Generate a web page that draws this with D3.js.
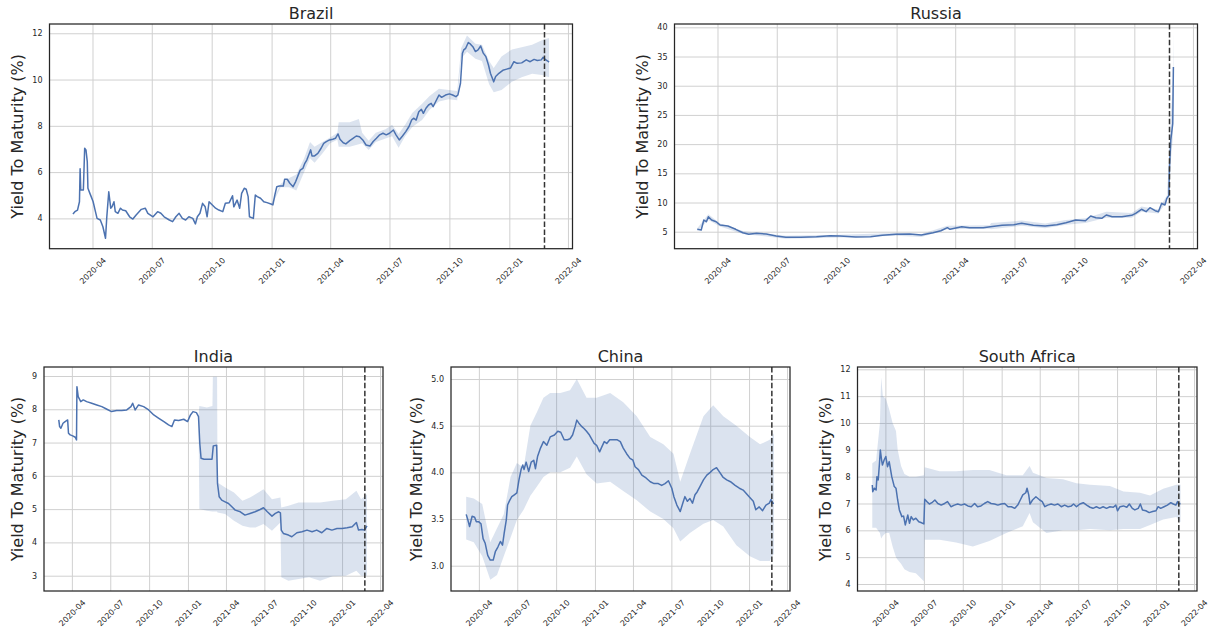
<!DOCTYPE html>
<html lang="en">
<head>
  <meta charset="UTF-8" />
  <title>Yield To Maturity – Brazil, Russia, India, China, South Africa</title>
  <script src="https://d3js.org/d3.v7.min.js"></script>
  <style>
    body { margin: 0; background: #fff; }
    svg { display: block; font-family: "DejaVu Sans", sans-serif; }
    .title, .ylabel { font-size: 16px; fill: #262626; }
  </style>
</head>
<body>
<svg id="chart" width="1215" height="636"></svg>
<script>
// ---------- shared axis data ----------
const xRange = ["2020-01-26", "2022-04-08"];
const quarterTicks = ["2020-04", "2020-07", "2020-10", "2021-01", "2021-04",
                      "2021-07", "2021-10", "2022-01", "2022-04"];
const invasionDate = "2022-02-24";

// ---------- Brazil ----------
const brazilTicks = [4, 6, 8, 10, 12];
const brazilDates = ["2020-03-02","2020-03-05","2020-03-09","2020-03-12","2020-03-13","2020-03-14","2020-03-18","2020-03-20","2020-03-22","2020-03-24","2020-03-25","2020-03-28","2020-03-30","2020-04-02","2020-04-05","2020-04-08","2020-04-13","2020-04-17","2020-04-21","2020-04-23","2020-04-26","2020-04-29","2020-05-01","2020-05-04","2020-05-06","2020-05-10","2020-05-14","2020-05-17","2020-05-22","2020-05-28","2020-06-02","2020-06-07","2020-06-15","2020-06-21","2020-06-25","2020-07-03","2020-07-10","2020-07-15","2020-07-20","2020-07-28","2020-08-02","2020-08-07","2020-08-12","2020-08-17","2020-08-22","2020-08-27","2020-09-02","2020-09-06","2020-09-09","2020-09-13","2020-09-17","2020-09-21","2020-09-24","2020-09-27","2020-10-02","2020-10-07","2020-10-12","2020-10-18","2020-10-22","2020-10-28","2020-11-02","2020-11-04","2020-11-09","2020-11-13","2020-11-16","2020-11-20","2020-11-23","2020-11-26","2020-11-28","2020-12-04","2020-12-07","2020-12-10","2020-12-15","2020-12-20","2020-12-25","2021-01-01","2021-01-03","2021-01-06","2021-01-09","2021-01-13","2021-01-19","2021-01-21","2021-01-25","2021-01-29","2021-02-03","2021-02-07","2021-02-11","2021-02-14","2021-02-18","2021-02-21","2021-02-24","2021-02-27","2021-03-02","2021-03-04","2021-03-08","2021-03-13","2021-03-18","2021-03-22","2021-03-26","2021-03-31","2021-04-05","2021-04-09","2021-04-13","2021-04-16","2021-04-21","2021-04-25","2021-05-01","2021-05-06","2021-05-11","2021-05-16","2021-05-21","2021-05-26","2021-06-01","2021-06-06","2021-06-11","2021-06-16","2021-06-21","2021-06-26","2021-07-01","2021-07-07","2021-07-11","2021-07-16","2021-07-21","2021-07-26","2021-07-31","2021-08-04","2021-08-07","2021-08-11","2021-08-15","2021-08-19","2021-08-22","2021-08-26","2021-08-30","2021-09-03","2021-09-06","2021-09-10","2021-09-15","2021-09-19","2021-09-25","2021-10-01","2021-10-06","2021-10-11","2021-10-14","2021-10-18","2021-10-21","2021-10-23","2021-10-26","2021-10-30","2021-11-02","2021-11-06","2021-11-10","2021-11-14","2021-11-18","2021-11-22","2021-11-26","2021-11-30","2021-12-03","2021-12-08","2021-12-11","2021-12-16","2021-12-22","2021-12-28","2022-01-03","2022-01-08","2022-01-13","2022-01-20","2022-01-27","2022-02-02","2022-02-08","2022-02-13","2022-02-19","2022-02-22","2022-02-25","2022-03-01","2022-03-03"];
const brazilYield = [4.19,4.29,4.36,4.72,6.14,5.23,5.23,7.03,6.96,6.45,5.30,5.08,4.94,4.72,4.36,4.00,3.93,3.64,3.14,4.07,5.15,4.44,4.50,4.72,4.29,4.22,4.44,4.36,4.33,4.07,3.97,4.15,4.39,4.44,4.22,4.07,4.29,4.22,4.07,3.93,3.86,4.07,4.22,4.00,3.93,4.07,4.00,3.76,4.07,4.22,4.65,4.50,4.07,4.72,4.58,4.44,4.36,4.29,4.65,4.68,4.98,4.50,4.79,4.44,5.08,5.30,5.26,4.94,4.07,4.00,5.01,4.94,4.87,4.72,4.68,4.61,4.58,5.01,5.37,5.40,5.40,5.69,5.69,5.52,5.37,5.59,5.88,6.09,6.16,6.38,6.52,6.74,6.96,6.70,6.70,6.81,7.03,7.24,7.32,7.39,7.42,7.46,7.65,7.42,7.27,7.22,7.36,7.46,7.56,7.53,7.39,7.17,7.13,7.32,7.46,7.61,7.68,7.61,7.68,7.82,7.61,7.39,7.56,7.75,7.97,8.25,8.33,8.25,8.61,8.71,8.54,8.76,8.90,8.97,8.83,9.05,9.33,9.23,9.33,9.38,9.33,9.26,9.33,9.84,11.14,11.28,11.35,11.60,11.54,11.42,11.21,11.28,11.45,11.14,10.99,10.63,10.27,9.90,10.13,10.27,10.40,10.45,10.50,10.77,10.70,10.72,10.85,10.77,10.87,10.82,10.85,10.96,10.87,10.80,10.75];
const brazilBandDates = ["2021-01-01","2021-01-15","2021-01-28","2021-02-08","2021-02-20","2021-03-01","2021-03-08","2021-03-20","2021-04-01","2021-04-12","2021-04-14","2021-05-01","2021-05-15","2021-05-20","2021-05-30","2021-06-10","2021-06-25","2021-07-05","2021-07-15","2021-07-25","2021-08-05","2021-08-20","2021-09-01","2021-09-15","2021-09-30","2021-10-13","2021-10-19","2021-10-28","2021-11-10","2021-11-20","2021-12-01","2021-12-08","2021-12-20","2022-01-05","2022-01-20","2022-02-05","2022-02-20","2022-03-03"];
const brazilBandLow  = [4.55,5.35,5.35,5.20,6.00,6.60,6.40,6.80,7.25,7.40,7.10,7.10,7.20,7.25,6.95,7.30,7.45,7.55,7.05,7.55,7.95,8.25,8.70,9.05,9.15,9.10,10.90,11.20,10.90,10.80,9.80,9.45,9.55,9.90,10.10,10.25,10.20,10.10];
const brazilBandHigh = [4.67,5.50,5.75,5.90,6.60,7.30,7.10,7.30,7.50,7.70,8.15,8.15,8.30,7.70,7.35,7.70,7.85,8.05,7.65,8.05,8.55,8.95,9.30,9.60,9.55,9.50,11.35,11.90,11.55,11.50,10.80,10.50,11.00,11.30,11.40,11.50,11.70,11.80];

// ---------- Russia ----------
const russiaTicks = [5, 10, 15, 20, 25, 30, 35, 40];
const russiaDates = ["2020-03-01","2020-03-07","2020-03-11","2020-03-15","2020-03-18","2020-03-23","2020-03-30","2020-04-05","2020-04-17","2020-04-29","2020-05-10","2020-05-19","2020-05-31","2020-06-15","2020-06-30","2020-07-15","2020-08-07","2020-08-31","2020-09-21","2020-10-06","2020-10-30","2020-11-22","2020-12-10","2020-12-31","2021-01-21","2021-02-08","2021-02-26","2021-03-10","2021-03-20","2021-03-24","2021-04-02","2021-04-11","2021-04-23","2021-05-14","2021-05-25","2021-06-12","2021-06-30","2021-07-12","2021-07-30","2021-08-17","2021-09-04","2021-09-18","2021-10-03","2021-10-18","2021-10-26","2021-11-03","2021-11-12","2021-11-19","2021-11-28","2021-12-13","2021-12-28","2022-01-03","2022-01-12","2022-01-19","2022-01-25","2022-02-02","2022-02-07","2022-02-12","2022-02-17","2022-02-20","2022-02-23","2022-02-24","2022-02-26","2022-03-01","2022-03-02"];
const russiaYield = [5.41,5.29,7.00,6.71,7.57,7.00,6.71,6.15,5.98,5.41,4.83,4.55,4.73,4.61,4.26,4.04,4.04,4.14,4.32,4.26,4.09,4.14,4.38,4.55,4.61,4.43,4.83,5.17,5.69,5.41,5.63,5.86,5.69,5.69,5.86,6.09,6.20,6.44,6.09,5.98,6.20,6.54,7.00,6.88,7.69,7.40,7.29,7.86,7.57,7.57,7.81,8.15,8.84,8.43,9.11,8.60,8.43,9.86,9.57,10.72,11.20,16.10,20.70,23.50,33.20];
const russiaBandDates = ["2020-03-01","2020-03-18","2020-04-05","2020-05-10","2020-07-15","2020-10-06","2020-12-31","2021-02-08","2021-03-20","2021-05-24","2021-05-26","2021-07-12","2021-08-17","2021-09-18","2021-10-18","2021-11-19","2021-12-28","2022-01-12","2022-02-07","2022-02-20","2022-02-24","2022-02-26","2022-03-01","2022-03-02"];
const russiaBandLow  = [5.1,7.0,5.9,4.6,3.8,4.0,4.3,4.1,5.4,5.5,5.4,6.0,5.6,6.2,6.5,7.4,7.4,8.4,8.1,10.2,14.0,17.0,21.0,27.0];
const russiaBandHigh = [5.6,8.0,6.4,5.1,4.3,4.5,4.8,4.6,6.0,6.1,6.5,6.9,6.4,7.0,7.3,8.4,8.2,9.3,8.8,11.2,18.5,25.0,30.0,39.0];

// ---------- India ----------
const indiaTicks = [3, 4, 5, 6, 7, 8, 9];
const indiaDates = ["2020-03-01","2020-03-03","2020-03-06","2020-03-11","2020-03-16","2020-03-22","2020-03-24","2020-03-28","2020-04-03","2020-04-09","2020-04-12","2020-04-13","2020-04-16","2020-04-22","2020-04-28","2020-05-06","2020-05-18","2020-05-30","2020-06-11","2020-06-23","2020-07-04","2020-07-16","2020-07-28","2020-08-09","2020-08-19","2020-08-23","2020-08-29","2020-09-06","2020-09-18","2020-09-30","2020-10-12","2020-10-24","2020-11-05","2020-11-16","2020-11-24","2020-11-30","2020-12-10","2020-12-22","2020-12-31","2021-01-07","2021-01-13","2021-01-21","2021-01-26","2021-01-29","2021-02-01","2021-02-08","2021-02-20","2021-02-27","2021-03-02","2021-03-10","2021-03-12","2021-03-16","2021-03-22","2021-03-30","2021-04-07","2021-04-15","2021-04-23","2021-05-05","2021-05-16","2021-05-28","2021-06-09","2021-06-21","2021-06-29","2021-07-08","2021-07-19","2021-07-27","2021-08-04","2021-08-08","2021-08-10","2021-08-15","2021-08-27","2021-09-04","2021-09-16","2021-09-28","2021-10-10","2021-10-22","2021-11-02","2021-11-14","2021-11-26","2021-12-08","2021-12-20","2022-01-01","2022-01-13","2022-01-25","2022-02-04","2022-02-09","2022-02-17","2022-02-23","2022-03-01"];
const indiaYield = [7.68,7.48,7.43,7.58,7.63,7.68,7.28,7.23,7.20,7.16,7.08,8.68,8.38,8.23,8.28,8.23,8.18,8.13,8.08,8.00,7.93,7.96,7.96,7.98,8.08,8.18,7.98,8.13,8.08,7.98,7.83,7.73,7.63,7.53,7.48,7.68,7.66,7.70,7.63,7.83,7.93,7.90,7.78,6.98,6.53,6.50,6.50,6.50,6.90,6.92,5.77,5.37,5.27,5.22,5.17,5.07,4.97,4.92,4.82,4.87,4.92,4.99,5.04,4.92,4.79,4.87,4.92,4.89,4.37,4.27,4.22,4.17,4.29,4.32,4.37,4.32,4.37,4.29,4.42,4.37,4.42,4.42,4.44,4.47,4.60,4.37,4.39,4.37,4.50];
const indiaBandDates = ["2021-01-26","2021-01-28","2021-02-15","2021-02-28","2021-03-01","2021-03-11","2021-03-12","2021-03-30","2021-04-20","2021-05-10","2021-05-28","2021-06-10","2021-06-29","2021-07-19","2021-08-08","2021-08-10","2021-08-27","2021-09-20","2021-10-15","2021-11-10","2021-12-10","2022-01-10","2022-02-04","2022-02-15","2022-03-01"];
const indiaBandLow  = [7.78,5.00,4.95,4.93,4.93,4.93,4.90,4.85,4.65,4.50,4.45,4.45,4.55,4.35,4.60,2.95,2.85,2.90,2.95,2.85,2.98,3.00,3.15,3.00,3.00];
const indiaBandHigh = [7.78,8.10,8.05,8.10,8.98,8.98,5.80,5.65,5.50,5.25,5.35,5.45,5.60,5.30,5.35,5.05,5.10,5.20,5.20,5.20,5.25,5.30,5.55,5.30,5.45];

// ---------- China ----------
const chinaTicks = [3.0, 3.5, 4.0, 4.5, 5.0];
const chinaDates = ["2020-03-02","2020-03-06","2020-03-10","2020-03-16","2020-03-22","2020-03-26","2020-04-01","2020-04-06","2020-04-11","2020-04-16","2020-04-22","2020-04-28","2020-05-05","2020-05-10","2020-05-16","2020-05-22","2020-05-27","2020-05-31","2020-06-05","2020-06-08","2020-06-13","2020-06-18","2020-06-24","2020-06-30","2020-07-05","2020-07-10","2020-07-14","2020-07-17","2020-07-22","2020-07-28","2020-08-03","2020-08-09","2020-08-13","2020-08-18","2020-08-25","2020-09-01","2020-09-09","2020-09-17","2020-09-27","2020-10-05","2020-10-12","2020-10-20","2020-10-28","2020-11-03","2020-11-09","2020-11-15","2020-11-19","2020-11-25","2020-12-01","2020-12-06","2020-12-12","2020-12-19","2020-12-24","2020-12-30","2021-01-05","2021-01-12","2021-01-17","2021-01-23","2021-01-29","2021-02-05","2021-02-14","2021-02-22","2021-03-02","2021-03-09","2021-03-17","2021-03-25","2021-04-01","2021-04-06","2021-04-14","2021-04-22","2021-05-02","2021-05-12","2021-05-21","2021-05-31","2021-06-08","2021-06-16","2021-06-24","2021-07-02","2021-07-07","2021-07-14","2021-07-22","2021-07-28","2021-08-02","2021-08-08","2021-08-14","2021-08-20","2021-08-26","2021-08-31","2021-09-07","2021-09-15","2021-09-23","2021-10-01","2021-10-08","2021-10-16","2021-10-22","2021-10-31","2021-11-09","2021-11-18","2021-11-29","2021-12-09","2021-12-18","2021-12-28","2022-01-05","2022-01-11","2022-01-17","2022-01-25","2022-02-02","2022-02-10","2022-02-18","2022-02-22","2022-02-26","2022-03-01"];
const chinaYield = [3.55,3.49,3.42,3.53,3.52,3.47,3.47,3.45,3.29,3.24,3.11,3.06,3.06,3.15,3.20,3.26,3.22,3.35,3.49,3.65,3.70,3.74,3.76,3.78,3.92,4.03,4.08,4.03,4.11,4.01,4.11,4.13,4.04,4.17,4.26,4.33,4.29,4.38,4.40,4.44,4.43,4.35,4.35,4.36,4.40,4.49,4.56,4.52,4.49,4.47,4.44,4.40,4.36,4.31,4.29,4.22,4.27,4.33,4.31,4.35,4.35,4.35,4.33,4.26,4.20,4.15,4.13,4.06,4.03,3.97,3.94,3.90,3.88,3.88,3.86,3.88,3.91,3.83,3.74,3.65,3.58,3.67,3.74,3.69,3.72,3.67,3.76,3.79,3.85,3.92,3.97,4.00,4.03,4.05,4.01,3.95,3.92,3.90,3.86,3.83,3.81,3.76,3.72,3.69,3.60,3.63,3.59,3.65,3.67,3.71,3.67,3.67];
const chinaBandDates = ["2020-03-02","2020-03-20","2020-04-09","2020-04-28","2020-05-14","2020-05-30","2020-06-15","2020-06-30","2020-07-16","2020-08-01","2020-08-17","2020-09-01","2020-09-17","2020-10-11","2020-11-03","2020-11-19","2020-12-12","2021-01-05","2021-02-06","2021-03-09","2021-04-10","2021-05-12","2021-06-12","2021-07-06","2021-07-22","2021-08-14","2021-09-15","2021-10-08","2021-11-01","2021-12-02","2022-01-03","2022-01-27","2022-02-19","2022-03-01"];
const chinaBandLow  = [3.28,3.25,3.10,2.85,2.90,3.10,3.30,3.49,3.60,3.75,3.85,3.95,4.00,4.00,4.05,4.17,3.98,3.88,3.90,3.80,3.70,3.58,3.50,3.40,3.26,3.35,3.45,3.49,3.42,3.22,3.10,3.05,3.05,3.13];
const chinaBandHigh = [3.74,3.72,3.66,3.25,3.40,3.55,3.95,4.10,4.05,4.50,4.65,4.80,4.85,4.85,4.88,5.00,4.80,4.80,4.85,4.75,4.60,4.38,4.30,4.20,3.90,4.20,4.60,4.72,4.60,4.50,4.38,4.30,4.35,4.42];

// ---------- South Africa ----------
const southAfricaTicks = [4, 5, 6, 7, 8, 9, 10, 11, 12];
const southAfricaDates = ["2020-03-01","2020-03-02","2020-03-06","2020-03-10","2020-03-12","2020-03-15","2020-03-18","2020-03-20","2020-03-23","2020-03-25","2020-03-29","2020-04-02","2020-04-06","2020-04-10","2020-04-16","2020-04-22","2020-04-26","2020-04-30","2020-05-04","2020-05-10","2020-05-14","2020-05-18","2020-05-24","2020-05-28","2020-06-01","2020-06-06","2020-06-12","2020-06-19","2020-06-24","2020-07-01","2020-07-03","2020-07-08","2020-07-14","2020-07-20","2020-07-27","2020-08-03","2020-08-11","2020-08-19","2020-08-26","2020-09-03","2020-09-11","2020-09-19","2020-09-27","2020-10-05","2020-10-13","2020-10-21","2020-10-29","2020-11-05","2020-11-13","2020-11-21","2020-11-29","2020-12-07","2020-12-15","2020-12-23","2020-12-31","2021-01-08","2021-01-16","2021-01-24","2021-02-01","2021-02-08","2021-02-14","2021-02-20","2021-02-27","2021-03-02","2021-03-06","2021-03-09","2021-03-15","2021-03-23","2021-04-01","2021-04-07","2021-04-13","2021-04-20","2021-04-28","2021-05-06","2021-05-14","2021-05-22","2021-05-30","2021-06-07","2021-06-15","2021-06-20","2021-06-27","2021-07-05","2021-07-13","2021-07-21","2021-07-29","2021-08-05","2021-08-13","2021-08-21","2021-08-29","2021-09-06","2021-09-14","2021-09-22","2021-09-28","2021-10-02","2021-10-08","2021-10-16","2021-10-24","2021-10-30","2021-11-06","2021-11-12","2021-11-20","2021-11-25","2021-11-30","2021-12-08","2021-12-16","2021-12-24","2022-01-01","2022-01-06","2022-01-12","2022-01-20","2022-01-28","2022-02-05","2022-02-11","2022-02-17","2022-02-21","2022-02-24","2022-02-28"];
const southAfricaYield = [7.69,7.44,7.57,7.50,8.00,7.88,8.50,8.99,8.62,8.43,8.62,8.75,8.37,8.56,8.00,7.63,7.57,7.13,6.76,6.51,6.53,6.20,6.57,6.26,6.51,6.39,6.45,6.32,6.29,6.24,7.16,7.07,6.98,7.03,7.13,7.00,6.94,7.00,7.07,6.88,6.94,6.98,6.94,6.98,6.91,6.88,7.00,6.88,6.91,7.00,7.07,7.00,6.98,6.94,6.98,7.00,6.88,6.88,6.82,6.94,7.13,7.32,7.40,7.57,7.32,6.98,7.13,7.25,7.13,7.07,6.88,6.94,6.98,6.94,6.98,6.88,6.94,6.88,6.91,6.98,6.88,6.98,7.03,6.94,6.86,6.82,6.88,6.82,6.88,6.82,6.88,6.86,6.94,6.73,6.88,6.91,6.86,6.98,6.82,6.76,6.82,6.98,6.76,6.73,6.66,6.70,6.73,6.88,6.82,6.88,6.94,7.03,6.98,6.94,7.07,6.98,7.00];
const southAfricaBandDates = ["2020-03-01","2020-03-10","2020-03-19","2020-03-22","2020-03-26","2020-04-02","2020-04-10","2020-04-18","2020-04-26","2020-04-30","2020-05-08","2020-05-16","2020-05-28","2020-06-12","2020-07-01","2020-07-03","2020-08-07","2020-09-15","2020-10-25","2020-12-03","2021-01-12","2021-02-20","2021-03-08","2021-03-16","2021-04-17","2021-05-26","2021-06-27","2021-07-29","2021-09-14","2021-10-16","2021-11-24","2021-12-18","2022-01-18","2022-02-18","2022-02-28"];
const southAfricaBandLow  = [6.10,6.10,5.90,5.70,5.80,5.90,5.90,5.40,5.00,4.90,4.75,4.55,4.45,4.40,4.10,5.65,5.65,5.55,5.40,5.60,5.90,6.15,6.65,6.30,5.90,6.00,6.00,6.05,6.00,6.05,6.05,6.20,6.40,6.50,6.30];
const southAfricaBandHigh = [8.50,8.60,10.00,11.70,11.00,10.90,10.50,10.00,9.70,9.00,8.40,8.10,8.00,8.00,8.05,8.35,8.20,8.20,8.25,8.25,8.05,8.05,8.40,8.15,7.95,7.90,7.75,7.70,7.65,7.45,7.40,7.30,7.55,7.70,7.70];

// ---------- layout ----------
const panels = [
  { title: "Brazil", left: 49.5, top: 24, width: 523, height: 224.7, yDomain: [2.69, 12.40], fmt: "d",
    ticks: brazilTicks, dates: brazilDates, values: brazilYield,
    bandDates: brazilBandDates, low: brazilBandLow, high: brazilBandHigh },
  { title: "Russia", left: 674.5, top: 24, width: 523, height: 224.7, yDomain: [2.09, 40.57], fmt: "d",
    ticks: russiaTicks, dates: russiaDates, values: russiaYield,
    bandDates: russiaBandDates, low: russiaBandLow, high: russiaBandHigh },
  { title: "India", left: 44, top: 367, width: 339, height: 224, yDomain: [2.54, 9.27], fmt: "d",
    ticks: indiaTicks, dates: indiaDates, values: indiaYield,
    bandDates: indiaBandDates, low: indiaBandLow, high: indiaBandHigh },
  { title: "China", left: 451, top: 367, width: 339, height: 224, yDomain: [2.729, 5.129], fmt: ".1f",
    ticks: chinaTicks, dates: chinaDates, values: chinaYield,
    bandDates: chinaBandDates, low: chinaBandLow, high: chinaBandHigh },
  { title: "South Africa", left: 857.5, top: 367, width: 339.5, height: 224, yDomain: [3.739, 12.086], fmt: "d",
    ticks: southAfricaTicks, dates: southAfricaDates, values: southAfricaYield,
    bandDates: southAfricaBandDates, low: southAfricaBandLow, high: southAfricaBandHigh }
];

const svg = d3.select("#chart");
const parseDay = d3.timeParse("%Y-%m-%d");
const parseMonth = d3.timeParse("%Y-%m");
const lineColor = "#4c72b0";
const inkColor = "#262626";
const tickPad = 7;

function styleAxis(a) {
  a.attr("font-family", "DejaVu Sans, sans-serif").attr("font-size", 8);
  a.select(".domain").remove();
  a.selectAll(".tick line").attr("stroke", "#d0d0d0").attr("stroke-width", 1);
  a.selectAll(".tick text").attr("fill", inkColor);
}

function drawPanel(p) {
  const x = d3.scaleTime().domain(xRange.map(parseDay)).range([p.left, p.left + p.width]);
  const y = d3.scaleLinear().domain(p.yDomain).range([p.top + p.height, p.top]);
  const g = svg.append("g");

  // axes with grid
  const yAxis = g.append("g")
    .attr("transform", `translate(${p.left},0)`)
    .call(d3.axisLeft(y).tickValues(p.ticks).tickFormat(d3.format(p.fmt))
      .tickSize(-p.width).tickPadding(tickPad));
  styleAxis(yAxis);

  const xAxis = g.append("g")
    .attr("transform", `translate(0,${p.top + p.height})`)
    .call(d3.axisBottom(x).tickValues(quarterTicks.map(parseMonth))
      .tickFormat(d3.timeFormat("%Y-%m")).tickSize(-p.height).tickPadding(tickPad));
  styleAxis(xAxis);
  xAxis.selectAll(".tick text").each(function () {
    const len = this.getComputedTextLength();
    const half = (len + 9.3) * Math.SQRT1_2 / 2;
    d3.select(this)
      .attr("y", 0).attr("dy", "0.32em")
      .attr("text-anchor", "middle")
      .attr("transform", `translate(0,${tickPad + half}) rotate(-45)`);
  });

  // confidence band
  const band = p.bandDates.map((d, i) => ({ date: parseDay(d), lo: p.low[i], hi: p.high[i] }));
  g.append("path")
    .datum(band)
    .attr("fill", lineColor)
    .attr("fill-opacity", 0.2)
    .attr("d", d3.area().x(d => x(d.date)).y0(d => y(d.lo)).y1(d => y(d.hi)));

  // mean yield
  const series = p.dates.map((d, i) => ({ date: parseDay(d), v: p.values[i] }));
  g.append("path")
    .datum(series)
    .attr("fill", "none")
    .attr("stroke", lineColor)
    .attr("stroke-width", 1.5)
    .attr("stroke-linejoin", "round")
    .attr("d", d3.line().x(d => x(d.date)).y(d => y(d.v)));

  // invasion marker
  const xi = x(parseDay(invasionDate));
  g.append("line")
    .attr("x1", xi).attr("x2", xi)
    .attr("y1", p.top).attr("y2", p.top + p.height)
    .attr("stroke", "#333")
    .attr("stroke-width", 1.5)
    .attr("stroke-dasharray", "5.5,2.4");

  // frame
  g.append("rect")
    .attr("x", p.left).attr("y", p.top)
    .attr("width", p.width).attr("height", p.height)
    .attr("fill", "none")
    .attr("stroke", inkColor)
    .attr("stroke-width", 1.25);

  g.append("text")
    .attr("class", "title")
    .attr("x", p.left + p.width / 2)
    .attr("y", p.top - 5)
    .attr("text-anchor", "middle")
    .text(p.title);

  const maxW = d3.max(yAxis.selectAll(".tick text").nodes(), n => n.getComputedTextLength());
  const lx = p.left - tickPad - maxW - 14.5;
  g.append("text")
    .attr("class", "ylabel")
    .attr("transform", `translate(${lx},${p.top + p.height / 2}) rotate(-90)`)
    .attr("text-anchor", "middle")
    .attr("dy", "0.35em")
    .text("Yield To Maturity (%)");
}

panels.forEach(drawPanel);
</script>
</body>
</html>
